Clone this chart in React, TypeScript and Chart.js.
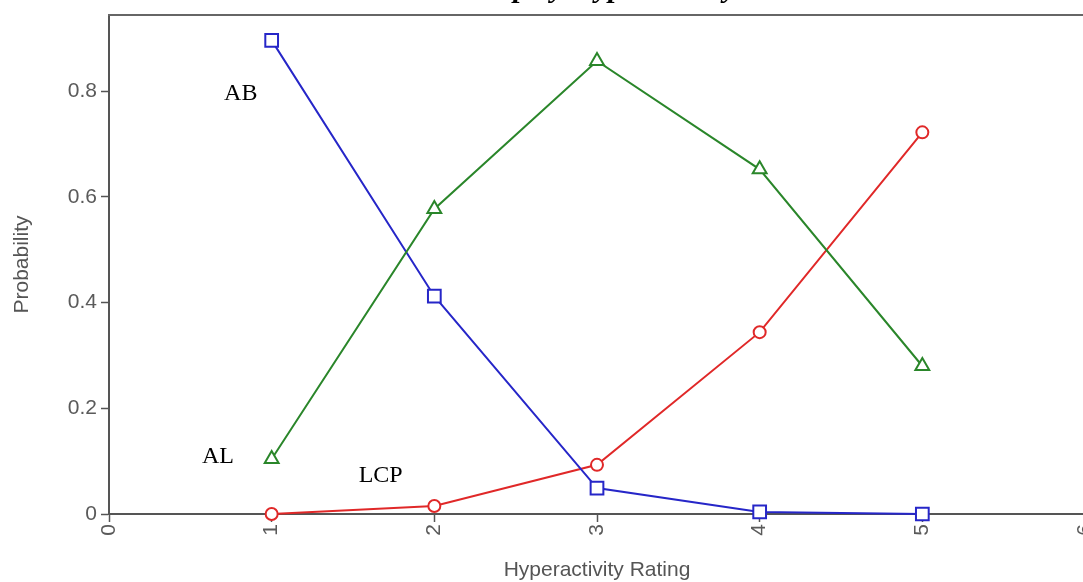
import React, { useEffect, useRef } from "react";
import { Chart, registerables } from "chart.js";

Chart.register(...registerables);

// ---- data ----
const ratings = [1, 2, 3, 4, 5];
const abValues = [0.896, 0.412, 0.049, 0.004, 0.0];
const alValues = [0.104, 0.577, 0.857, 0.652, 0.28];
const lcpValues = [0.0, 0.015, 0.093, 0.344, 0.722];
const xTickValues = [0, 1, 2, 3, 4, 5, 6];
const yTickValues = [0, 0.2, 0.4, 0.6, 0.8];
const seriesLabels = ["AB", "AL", "LCP"];
const seriesLabelX = [0.81, 0.67, 1.67];
const seriesLabelY = [0.796, 0.108, 0.072];
const titleText = "Figure 1. Estimated Latent Class Membership by Hyperactivity";
const xTitle = "Hyperactivity Rating";
const yTitle = "Probability";

const sans = '"Liberation Sans", Arial, sans-serif';
const serif = '"Liberation Serif", "Times New Roman", serif';

const frameTopPlugin = {
  id: "frameTop",
  afterDraw(chart: any) {
    const { ctx, chartArea } = chart;
    ctx.save();
    ctx.strokeStyle = "#666";
    ctx.lineWidth = 2;
    ctx.beginPath();
    ctx.moveTo(chartArea.left - 1, chartArea.top);
    ctx.lineTo(chart.width, chartArea.top);
    ctx.stroke();
    ctx.restore();
  },
};

const annotationPlugin = {
  id: "seriesNames",
  afterDatasetsDraw(chart: any) {
    const { ctx } = chart;
    const xs = chart.scales.x;
    const ys = chart.scales.y;
    ctx.save();
    ctx.fillStyle = "#000";
    ctx.font = `24px ${serif}`;
    ctx.textAlign = "center";
    ctx.textBaseline = "middle";
    seriesLabels.forEach((t, i) => {
      ctx.fillText(t, xs.getPixelForValue(seriesLabelX[i]), ys.getPixelForValue(seriesLabelY[i]));
    });
    ctx.restore();
  },
};

const titlePlugin = {
  id: "cutTitle",
  afterDraw(chart: any) {
    const { ctx } = chart;
    ctx.save();
    ctx.fillStyle = "#000";
    ctx.font = `italic bold 30px ${serif}`;
    ctx.textAlign = "left";
    ctx.textBaseline = "alphabetic";
    const idx = titleText.indexOf("Membership") + "Membershi".length;
    const pre = ctx.measureText(titleText.slice(0, idx)).width;
    const pw = ctx.measureText("p").width;
    const x0 = 521 - pre - pw / 2;
    ctx.fillText(titleText, x0, -3);
    ctx.restore();
  },
};

export default function App() {
  const ref = useRef<HTMLCanvasElement | null>(null);

  useEffect(() => {
    if (!ref.current) return;
    const mk = (data: number[]) => ratings.map((r, i) => ({ x: r, y: data[i] }));
    const chart = new Chart(ref.current, {
      type: "line",
      data: {
        datasets: [
          {
            label: "AL",
            data: mk(alValues),
            borderColor: "#2a862a",
            backgroundColor: "#ffffff",
            pointBorderColor: "#2a862a",
            pointBackgroundColor: "#ffffff",
            pointStyle: "triangle",
            pointRadius: 8,
            pointBorderWidth: 2,
            borderWidth: 2,
            clip: false as any,
          },
          {
            label: "AB",
            data: mk(abValues),
            borderColor: "#2626c8",
            backgroundColor: "#ffffff",
            pointBorderColor: "#2626c8",
            pointBackgroundColor: "#ffffff",
            pointStyle: "rect",
            pointRadius: 9,
            pointBorderWidth: 2,
            borderWidth: 2,
            clip: false as any,
          },
          {
            label: "LCP",
            data: mk(lcpValues),
            borderColor: "#e02828",
            backgroundColor: "#ffffff",
            pointBorderColor: "#e02828",
            pointBackgroundColor: "#ffffff",
            pointStyle: "circle",
            pointRadius: 6,
            pointBorderWidth: 2,
            borderWidth: 2,
            clip: false as any,
          },
        ],
      },
      options: {
        animation: false,
        responsive: false,
        maintainAspectRatio: false,
        layout: { padding: { left: 0, right: 15, top: 15, bottom: 0 } },
        plugins: {
          legend: { display: false },
          tooltip: { enabled: false },
        },
        scales: {
          x: {
            type: "linear",
            min: 0,
            max: 6,
            afterBuildTicks: (s: any) => {
              s.ticks = xTickValues.map((v) => ({ value: v }));
            },
            afterFit: (s: any) => {
              s.height = 68;
              s.paddingLeft = 0;
              s.paddingRight = 0;
            },
            ticks: {
              minRotation: 90,
              maxRotation: 90,
              autoSkip: false,
              padding: 2,
              color: "#5a5a5a",
              font: { family: sans, size: 21 },
              callback: (v: any) => String(v),
            },
            grid: { drawOnChartArea: false, tickLength: 8, tickColor: "#555", tickWidth: 1.5 },
            border: { color: "#555", width: 2 },
            title: {
              display: true,
              text: xTitle,
              color: "#555",
              font: { family: sans, size: 21, lineHeight: 1 },
              padding: { top: 0, bottom: 1 },
            },
          },
          y: {
            type: "linear",
            min: 0,
            max: 0.944,
            afterBuildTicks: (s: any) => {
              s.ticks = yTickValues.map((v) => ({ value: v }));
            },
            afterFit: (s: any) => {
              s.width = 109;
              s.paddingTop = 0;
              s.paddingBottom = 0;
            },
            ticks: {
              padding: 4,
              color: "#5a5a5a",
              font: { family: sans, size: 21 },
              callback: (v: any) => String(Math.round(Number(v) * 10) / 10),
            },
            grid: { drawOnChartArea: false, tickLength: 8, tickColor: "#555", tickWidth: 1.5 },
            border: { color: "#555", width: 2 },
            title: {
              display: true,
              text: yTitle,
              color: "#555",
              font: { family: sans, size: 21, lineHeight: 1 },
              padding: { top: 12, bottom: 0 },
            },
          },
        },
      },
      plugins: [frameTopPlugin, annotationPlugin, titlePlugin],
    });
    return () => chart.destroy();
  }, []);

  return (
    <div
      style={{
        position: "absolute",
        left: 0,
        top: 0,
        width: 1083,
        height: 582,
        overflow: "hidden",
        background: "#fff",
      }}
    >
      <canvas ref={ref} width={1100} height={582} style={{ display: "block" }} />
    </div>
  );
}
